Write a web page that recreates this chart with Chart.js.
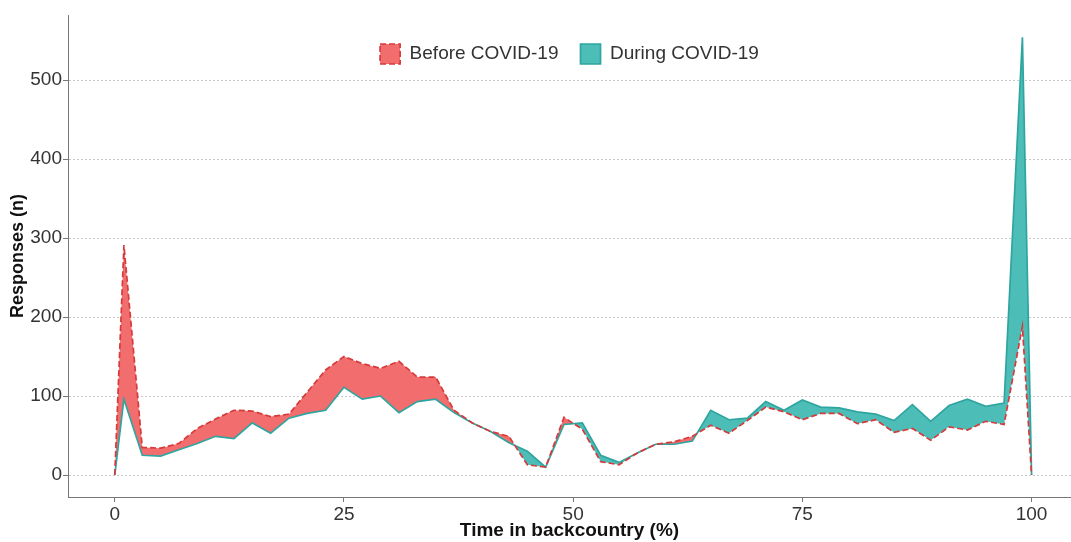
<!DOCTYPE html>
<html>
<head>
<meta charset="utf-8">
<script src="https://cdn.jsdelivr.net/npm/chart.js@4.4.1/dist/chart.umd.min.js"></script>
<style>
  body { margin: 0; background: #fff; }
  #chart { display: block; }
</style>
</head>
<body>
<canvas id="chart" width="1071" height="542"></canvas>
<script>
// time in backcountry (%)
const timePct = [0, 1, 3, 5, 7, 9, 11, 13, 15, 17, 19, 21, 23, 25, 27, 29, 31, 33, 35, 37, 39,
    41, 43, 45, 47, 49, 51, 53, 55, 57, 59, 61, 63, 65, 67, 69, 71, 73, 75, 77, 79,
    81, 83, 85, 87, 89, 91, 93, 95, 97, 99, 100];

const beforeCovid = [0, 291, 35, 34, 40, 59, 71, 82, 81, 74, 77, 105, 133, 150, 141, 135, 144, 124, 124, 82, 66,
    55, 49, 13, 10, 73, 58, 17, 13, 28, 39, 42, 49, 63, 53, 69, 86, 80, 70, 78, 78,
    65, 70, 54, 59, 44, 61, 57, 68, 64, 188, 0];

const duringCovid = [0, 96, 25, 24, 32, 40, 49, 46, 66, 53, 72, 78, 82, 111, 96, 100, 79, 93, 96, 79, 66,
    55, 41, 30, 10, 64, 66, 25, 16, 28, 39, 39, 43, 82, 70, 72, 93, 82, 95, 86, 85,
    80, 77, 69, 89, 68, 88, 96, 87, 91, 554, 0];

const xTicks = [0, 25, 50, 75, 100];
const yTicks = [0, 100, 200, 300, 400, 500];

const redFill = '#F26D6D';
const redLine = '#D63A3A';
const tealFill = '#4DBDB8';
const tealLine = '#2FA5A0';

const toPoints = (ys) => ys.map((y, i) => ({ x: timePct[i], y: y }));

// keep the legend inside the plot, like the original
const legendInside = {
    id: 'legendInside',
    afterInit(chart) {
        const legend = chart.legend;
        const fit = legend.fit;
        legend.fit = function () {
            fit.call(this);
            this._realHeight = this.height;
            this.height = 0;
        };
    },
    afterLayout(chart) {
        const legend = chart.legend;
        legend.top = 22;
        legend.bottom = legend.top + legend._realHeight;
        legend.height = legend._realHeight;
    }
};

new Chart(document.getElementById('chart'), {
    type: 'line',
    data: {
        datasets: [{
            label: 'Before COVID-19',
            data: toPoints(beforeCovid),
            borderColor: redLine,
            backgroundColor: redFill,
            borderWidth: 1.7,
            borderDash: [6, 3],
            pointRadius: 0,
            tension: 0,
            fill: { target: 1, above: redFill, below: tealFill }
        }, {
            label: 'During COVID-19',
            data: toPoints(duringCovid),
            borderColor: tealLine,
            backgroundColor: tealFill,
            borderWidth: 1.7,
            pointRadius: 0,
            tension: 0,
            fill: false
        }]
    },
    options: {
        responsive: false,
        animation: false,
        layout: { padding: { top: 15, left: 0, right: 0, bottom: 0 } },
        plugins: {
            filler: { drawTime: 'beforeDatasetsDraw' },
            tooltip: { enabled: false },
            legend: {
                position: 'top',
                fullSize: false,
                labels: {
                    boxWidth: 20,
                    boxHeight: 20,
                    padding: 22,
                    color: '#333',
                    font: { family: 'Liberation Sans, Arial, sans-serif', size: 19 }
                }
            }
        },
        scales: {
            x: {
                type: 'linear',
                min: -5.1,
                max: 104.3,
                afterBuildTicks: (scale) => { scale.ticks = xTicks.map(v => ({ value: v })); },
                afterFit: (scale) => { scale.height = 45; },
                grid: {
                    drawOnChartArea: false,
                    tickLength: 5,
                    tickColor: '#777',
                    tickWidth: 1
                },
                border: { color: '#777', width: 1 },
                ticks: {
                    padding: 1,
                    color: '#333',
                    maxRotation: 0,
                    font: { family: 'Liberation Sans, Arial, sans-serif', size: 19 }
                },
                title: {
                    display: true,
                    text: 'Time in backcountry (%)',
                    color: '#111',
                    padding: { top: 0, bottom: 0 },
                    font: { family: 'Liberation Sans, Arial, sans-serif', size: 19, weight: 'bold' }
                }
            },
            y: {
                min: -27.8,
                max: 582.3,
                afterBuildTicks: (scale) => { scale.ticks = yTicks.map(v => ({ value: v })); },
                afterFit: (scale) => { scale.width = 68; },
                grid: {
                    color: '#c8c8c8',
                    lineWidth: 1,
                    tickLength: 5,
                    tickColor: '#777',
                    tickWidth: 1
                },
                border: { color: '#777', width: 1, dash: [2, 2] },
                ticks: {
                    padding: 1,
                    color: '#333',
                    font: { family: 'Liberation Sans, Arial, sans-serif', size: 19 }
                },
                title: {
                    display: true,
                    text: 'Responses (n)',
                    color: '#111',
                    padding: { top: 7, bottom: 0 },
                    font: { family: 'Liberation Sans, Arial, sans-serif', size: 18, weight: 'bold' }
                }
            }
        }
    },
    plugins: [legendInside]
});
</script>
</body>
</html>
